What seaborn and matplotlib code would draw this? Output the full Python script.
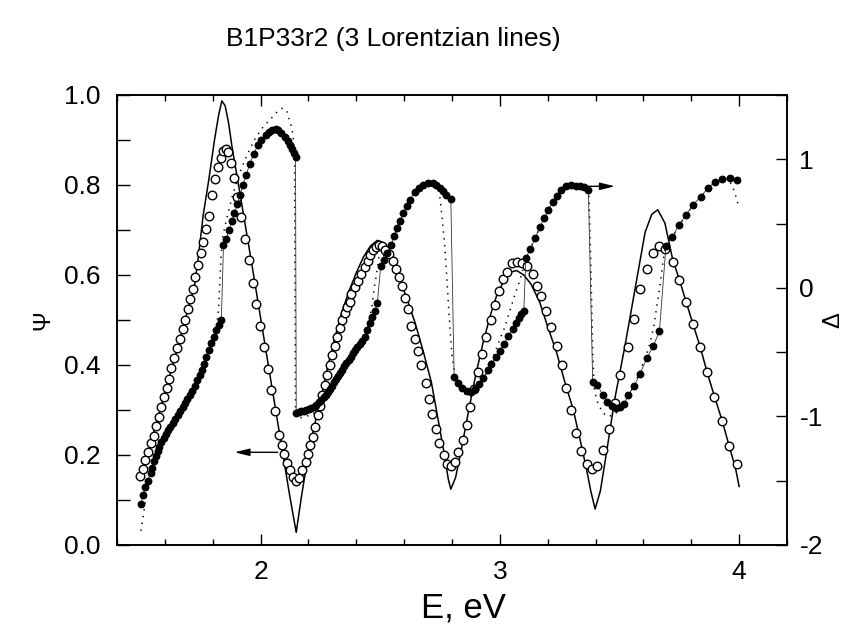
import matplotlib
matplotlib.use("Agg")
import matplotlib.pyplot as plt
import seaborn as sns
from matplotlib.ticker import MultipleLocator, FormatStrFormatter

plt.rcParams['font.family'] = ['Liberation Sans', 'DejaVu Sans']
plt.rcParams['axes.unicode_minus'] = False

# ---------------- data ----------------
# Psi, experimental (open circles)
E_psi_exp = [1.498, 1.508, 1.519, 1.531, 1.540, 1.554, 1.563, 1.575, 1.584, 1.596,
             1.607, 1.616, 1.626, 1.640, 1.650, 1.662, 1.674, 1.685, 1.696, 1.707,
             1.718, 1.728, 1.738, 1.749, 1.759, 1.773, 1.784, 1.796, 1.808, 1.821,
             1.833, 1.842, 1.854, 1.863, 1.877, 1.888, 1.902, 1.919, 1.934,
             1.951, 1.968, 1.982, 1.999, 2.014, 2.029, 2.045, 2.061, 2.079, 2.089,
             2.099, 2.110, 2.123, 2.137, 2.149,
             2.160, 2.174, 2.188, 2.198, 2.208, 2.219, 2.226, 2.240, 2.247, 2.258,
             2.268, 2.278, 2.289, 2.300, 2.310, 2.319, 2.331, 2.342, 2.351, 2.361,
             2.372, 2.379, 2.393, 2.407, 2.421, 2.435, 2.447, 2.459, 2.470, 2.481,
             2.495, 2.507, 2.521, 2.537, 2.554, 2.568, 2.579, 2.591, 2.603, 2.617,
             2.630, 2.644, 2.658, 2.672, 2.690, 2.704, 2.718, 2.732, 2.746, 2.766,
             2.780, 2.794, 2.812, 2.827, 2.844, 2.861, 2.877, 2.893, 2.910, 2.926,
             2.944, 2.962, 2.979, 2.997, 3.014, 3.031, 3.049, 3.070, 3.091, 3.112,
             3.137, 3.154, 3.172, 3.193, 3.213, 3.237, 3.258, 3.276, 3.296, 3.318,
             3.339, 3.363, 3.384, 3.405,
             3.433, 3.456, 3.481, 3.502, 3.534, 3.560, 3.586, 3.614, 3.639, 3.663,
             3.691, 3.722, 3.750, 3.778, 3.807, 3.838, 3.866, 3.897, 3.929, 3.959,
             3.991]
psi_exp = [0.154, 0.169, 0.189, 0.207, 0.227, 0.243, 0.264, 0.285, 0.306, 0.328,
           0.349, 0.370, 0.393, 0.416, 0.437, 0.458, 0.479, 0.501, 0.524, 0.547,
           0.570, 0.595, 0.622, 0.649, 0.674, 0.702, 0.732, 0.778, 0.813, 0.841,
           0.861, 0.876, 0.880, 0.873, 0.849, 0.815, 0.773, 0.730, 0.681,
           0.633, 0.582, 0.536, 0.486, 0.439, 0.391, 0.345, 0.298, 0.245, 0.222,
           0.202, 0.183, 0.166, 0.151, 0.142,
           0.150, 0.166, 0.185, 0.203, 0.222, 0.241, 0.262, 0.290, 0.310, 0.334,
           0.356, 0.377, 0.400, 0.422, 0.443, 0.462, 0.482, 0.500, 0.515, 0.528,
           0.539, 0.558, 0.573, 0.587, 0.602, 0.617, 0.632, 0.644, 0.656, 0.663,
           0.667, 0.664, 0.656, 0.647, 0.632, 0.613, 0.595, 0.576, 0.550, 0.524,
           0.487, 0.458, 0.432, 0.399, 0.360, 0.324, 0.291, 0.258, 0.227, 0.200,
           0.180, 0.176, 0.184, 0.206, 0.234, 0.267, 0.306, 0.347, 0.384, 0.424,
           0.463, 0.499, 0.533, 0.564, 0.591, 0.607, 0.627, 0.630, 0.627, 0.619,
           0.602, 0.576, 0.553, 0.521, 0.484, 0.443, 0.399, 0.350, 0.299, 0.250,
           0.210, 0.180, 0.169, 0.175,
           0.211, 0.258, 0.315, 0.378, 0.440, 0.502, 0.568, 0.613, 0.650, 0.665,
           0.657, 0.629, 0.590, 0.541, 0.491, 0.439, 0.384, 0.330, 0.276, 0.219,
           0.181]

# Psi, fit (solid line)
E_psi_fit = [1.50, 1.55, 1.60, 1.65, 1.70, 1.724, 1.741, 1.760, 1.784, 1.808,
             1.824, 1.838, 1.852, 1.866, 1.880, 1.919, 1.96, 2.00, 2.04, 2.08,
             2.12, 2.149, 2.17, 2.19, 2.22, 2.25, 2.28, 2.31, 2.34, 2.37,
             2.40, 2.43, 2.46, 2.488, 2.51, 2.53, 2.56, 2.575, 2.61, 2.645,
             2.68, 2.714, 2.745, 2.77, 2.785, 2.795, 2.815, 2.84, 2.87, 2.90,
             2.93, 2.96, 2.99, 3.02, 3.05, 3.07, 3.10, 3.13, 3.167, 3.20,
             3.237, 3.27, 3.306, 3.335, 3.362, 3.38, 3.398, 3.42, 3.45, 3.48,
             3.523, 3.565, 3.607, 3.635, 3.660, 3.69, 3.722, 3.75, 3.778, 3.807,
             3.838, 3.866, 3.897, 3.929, 3.959, 3.985, 4.00]
psi_fit = [0.150, 0.245, 0.338, 0.432, 0.530, 0.575, 0.645, 0.732, 0.813, 0.902,
           0.953, 0.987, 0.976, 0.939, 0.887, 0.765, 0.635, 0.505, 0.375, 0.245,
           0.115, 0.028, 0.105, 0.170, 0.255, 0.320, 0.395, 0.460, 0.518, 0.565,
           0.605, 0.640, 0.665, 0.677, 0.672, 0.660, 0.630, 0.600, 0.550, 0.495,
           0.430, 0.361, 0.270, 0.195, 0.145, 0.124, 0.150, 0.215, 0.300, 0.380,
           0.450, 0.510, 0.560, 0.590, 0.607, 0.610, 0.600, 0.580, 0.539, 0.485,
           0.428, 0.365, 0.302, 0.235, 0.169, 0.120, 0.080, 0.120, 0.220, 0.324,
           0.443, 0.569, 0.695, 0.735, 0.745, 0.715, 0.635, 0.590, 0.541, 0.491,
           0.439, 0.384, 0.330, 0.276, 0.219, 0.170, 0.130]

# Delta, experimental (filled circles, connected by a thin line)
E_delta_exp = [1.501, 1.508, 1.519, 1.529, 1.540, 1.547, 1.554, 1.561, 1.570, 1.577,
               1.584, 1.596, 1.605, 1.612, 1.623, 1.633, 1.644, 1.654, 1.665, 1.675,
               1.685, 1.693, 1.703, 1.713, 1.724, 1.734, 1.745, 1.755, 1.763, 1.774,
               1.784, 1.794, 1.805, 1.815, 1.826, 1.836,
               1.845, 1.856, 1.868, 1.880, 1.891, 1.903, 1.914, 1.926, 1.940, 1.954,
               1.971, 1.989, 2.003, 2.021, 2.035, 2.049, 2.063, 2.073, 2.086, 2.100,
               2.114, 2.124, 2.132, 2.140, 2.146,
               2.149, 2.160, 2.170, 2.181, 2.191, 2.202, 2.212, 2.222, 2.233, 2.244,
               2.254, 2.263, 2.272, 2.281, 2.289, 2.298, 2.307, 2.316, 2.324, 2.333,
               2.342, 2.350, 2.358, 2.368, 2.377, 2.386, 2.395, 2.405, 2.415, 2.425,
               2.435, 2.446, 2.456, 2.466, 2.477, 2.488,
               2.502, 2.516, 2.530, 2.547, 2.558, 2.572, 2.582, 2.596, 2.610, 2.624,
               2.644, 2.661, 2.679, 2.700, 2.721, 2.735, 2.749, 2.763, 2.777, 2.795,
               2.809, 2.826, 2.842, 2.861, 2.879, 2.896, 2.914, 2.931, 2.949, 2.965,
               2.983, 3.000, 3.017, 3.035, 3.054, 3.068, 3.080, 3.090, 3.100,
               3.109, 3.128, 3.147, 3.167, 3.186, 3.203, 3.221, 3.238, 3.256, 3.275,
               3.296, 3.317, 3.335, 3.350, 3.370,
               3.388, 3.408, 3.430, 3.449, 3.468, 3.485, 3.502, 3.520, 3.537, 3.562,
               3.586, 3.614, 3.642, 3.667,
               3.694, 3.720, 3.748, 3.778, 3.808, 3.839, 3.868, 3.898, 3.930, 3.960,
               3.991]
delta_exp = [-1.68, -1.61, -1.55, -1.50, -1.44, -1.40, -1.35, -1.31, -1.27, -1.235,
             -1.20, -1.17, -1.135, -1.105, -1.08, -1.05, -1.02, -0.99, -0.96, -0.93,
             -0.895, -0.865, -0.83, -0.80, -0.76, -0.72, -0.68, -0.635, -0.595, -0.535,
             -0.48, -0.43, -0.38, -0.33, -0.29, -0.25,
             0.33, 0.38, 0.45, 0.52, 0.58, 0.65, 0.72, 0.80, 0.88, 0.96,
             1.04, 1.11, 1.15, 1.19, 1.215, 1.228, 1.232, 1.226, 1.205, 1.175,
             1.14, 1.11, 1.08, 1.05, 1.02,
             -0.97, -0.965, -0.96, -0.955, -0.95, -0.945, -0.935, -0.925, -0.91, -0.89,
             -0.87, -0.85, -0.83, -0.81, -0.785, -0.76, -0.735, -0.71, -0.685, -0.66,
             -0.635, -0.61, -0.585, -0.56, -0.535, -0.51, -0.485, -0.46, -0.435, -0.41,
             -0.385, -0.33, -0.275, -0.225, -0.18, -0.12,
             0.168, 0.220, 0.272, 0.336, 0.401, 0.466, 0.523, 0.583, 0.635, 0.687,
             0.745, 0.780, 0.800, 0.812, 0.812, 0.800, 0.780, 0.750, 0.720, 0.690,
             -0.69, -0.74, -0.78, -0.80, -0.81, -0.79, -0.75, -0.70, -0.64, -0.59,
             -0.54, -0.49, -0.435, -0.377, -0.32, -0.27, -0.235, -0.205, -0.18,
             0.233, 0.303, 0.388, 0.471, 0.544, 0.609, 0.666, 0.718, 0.765, 0.791,
             0.799, 0.796, 0.791, 0.785, 0.765,
             -0.73, -0.755, -0.835, -0.885, -0.92, -0.935, -0.93, -0.905, -0.832, -0.762,
             -0.668, -0.546, -0.45, -0.335,
             0.323, 0.392, 0.488, 0.566, 0.648, 0.707, 0.774, 0.823, 0.843, 0.855,
             0.840]

# Delta, fit (dotted line)
E_delta_fit = [1.500, 1.508, 1.520, 1.535, 1.55, 1.57, 1.60, 1.63, 1.66, 1.70,
               1.73, 1.76, 1.79, 1.815, 1.825, 1.830, 1.835, 1.842, 1.86, 1.88,
               1.90, 1.92, 1.95, 1.98, 2.01, 2.04, 2.07, 2.093, 2.11, 2.125,
               2.135, 2.142, 2.144, 2.146, 2.155, 2.170, 2.19, 2.22, 2.25, 2.28,
               2.31, 2.34, 2.37, 2.40, 2.43, 2.45, 2.465, 2.475, 2.484, 2.495,
               2.52, 2.55, 2.58, 2.61, 2.64, 2.67, 2.70, 2.73, 2.745, 2.758,
               2.770, 2.779, 2.788, 2.800, 2.809, 2.818, 2.833, 2.85, 2.87, 2.89,
               2.91, 2.93, 2.95, 2.98, 3.00, 3.02, 3.04, 3.06, 3.08, 3.095,
               3.105, 3.13, 3.15, 3.18, 3.21, 3.24, 3.27, 3.30, 3.33, 3.355,
               3.372, 3.380, 3.388, 3.395, 3.41, 3.43, 3.45, 3.475, 3.50, 3.53,
               3.56, 3.59, 3.62, 3.634, 3.646, 3.656, 3.665, 3.674, 3.681, 3.687,
               3.70, 3.72, 3.75, 3.78, 3.81, 3.84, 3.87, 3.90, 3.93, 3.955,
               3.97, 3.985, 4.00]
delta_fit = [-1.89, -1.80, -1.64, -1.50, -1.40, -1.29, -1.17, -1.07, -0.98, -0.86,
             -0.75, -0.63, -0.47, -0.32, -0.15, 0.05, 0.25, 0.40, 0.55, 0.70,
             0.82, 0.93, 1.06, 1.17, 1.25, 1.31, 1.37, 1.40, 1.37, 1.28,
             1.20, 1.05, 0.00, -0.95, -1.00, -1.01, -1.00, -0.98, -0.92, -0.84,
             -0.75, -0.66, -0.57, -0.47, -0.39, -0.28, -0.15, 0.00, 0.10, 0.25,
             0.25, 0.36, 0.51, 0.64, 0.74, 0.79, 0.81, 0.80, 0.78, 0.56,
             0.32, 0.06, -0.22, -0.53, -0.64, -0.715, -0.77, -0.82, -0.845, -0.83,
             -0.79, -0.72, -0.64, -0.50, -0.40, -0.31, -0.19, -0.07, 0.04, 0.13,
             0.22, 0.31, 0.40, 0.52, 0.63, 0.72, 0.78, 0.80, 0.79, 0.77,
             0.72, 0.20, -0.50, -0.80, -0.90, -0.97, -1.00, -0.99, -0.95, -0.87,
             -0.76, -0.63, -0.48, -0.38, -0.27, -0.14, -0.04, 0.09, 0.19, 0.27,
             0.34, 0.39, 0.49, 0.57, 0.65, 0.71, 0.77, 0.82, 0.84, 0.84,
             0.80, 0.72, 0.62]

# axis ranges
x_range = (1.4, 4.2)
psi_range = (0.0, 1.0)
delta_range = (-2.0, 1.5)

# ---------------- figure ----------------
W, H = 865, 623
fig = plt.figure(figsize=(W / 100, H / 100), dpi=100)
ax1 = fig.add_axes([117 / W, 1 - 545 / H, 670 / W, 450 / H])
ax2 = ax1.twinx()

# Psi fit (solid) and Psi exp (open circles) on left axis
sns.lineplot(x=E_psi_fit, y=psi_fit, ax=ax1, color='black', linewidth=1.1,
             sort=False, estimator=None, zorder=2)
sns.scatterplot(x=E_psi_exp, y=psi_exp, ax=ax1, marker='o', s=38,
                facecolor='white', edgecolor='black', linewidth=1.0, zorder=3)

# Delta fit (dotted) and Delta exp (filled circles + thin line) on right axis
sns.lineplot(x=E_delta_fit, y=delta_fit, ax=ax2, color='black', linewidth=1.1,
             linestyle=(0, (0.9, 3.6)), sort=False, estimator=None, zorder=2)
sns.lineplot(x=E_delta_exp, y=delta_exp, ax=ax2, color='#333333', linewidth=0.6,
             sort=False, estimator=None, zorder=3)
sns.scatterplot(x=E_delta_exp, y=delta_exp, ax=ax2, marker='o', s=32,
                color='black', linewidth=0, zorder=4)

# arrows showing which axis each data set belongs to
ax1.annotate('', xy=(1.891, 0.206), xytext=(2.072, 0.206),
             arrowprops=dict(arrowstyle='-|>,head_length=0.9,head_width=0.22',
                             color='black', lw=1.0, shrinkA=0, shrinkB=0))
ax2.annotate('', xy=(3.481, 0.79), xytext=(3.363, 0.79),
             arrowprops=dict(arrowstyle='-|>,head_length=0.9,head_width=0.22',
                             color='black', lw=1.0, shrinkA=0, shrinkB=0))

# limits and ticks
ax1.set_xlim(*x_range)
ax1.set_ylim(*psi_range)
ax2.set_ylim(*delta_range)

ax1.xaxis.set_major_locator(MultipleLocator(1.0))
ax1.xaxis.set_minor_locator(MultipleLocator(0.2))
ax1.xaxis.set_major_formatter(FormatStrFormatter('%d'))
ax1.yaxis.set_major_locator(MultipleLocator(0.2))
ax1.yaxis.set_minor_locator(MultipleLocator(0.1))
ax1.yaxis.set_major_formatter(FormatStrFormatter('%.1f'))
ax2.yaxis.set_major_locator(MultipleLocator(1.0))
ax2.yaxis.set_minor_locator(MultipleLocator(0.5))
ax2.yaxis.set_major_formatter(FormatStrFormatter('%d'))

ax1.tick_params(axis='x', which='major', direction='in', top=True, bottom=True,
                length=8, width=1.0, labelsize=19, pad=11)
ax1.tick_params(axis='x', which='minor', direction='in', top=True, bottom=True,
                length=4, width=1.0)
ax1.tick_params(axis='y', which='both', direction='in', left=True, right=False,
                length=9, width=1.0, labelsize=19, pad=12)
ax2.tick_params(axis='y', which='both', direction='in', right=True, left=False,
                length=8, width=1.0, labelsize=19, pad=9)

for ax in (ax1, ax2):
    for sp in ax.spines.values():
        sp.set_linewidth(1.2)
        sp.set_color('black')

# labels
ax1.set_xlabel('E, eV', fontsize=25)
ax1.xaxis.set_label_coords((463 - 117) / 670, -(591 - 545) / 450)
ax1.set_ylabel('\u03a8', fontsize=17)
ax1.yaxis.set_label_coords((54 - 117) / 670, 0.5)
ax2.set_ylabel('\u0394', fontsize=17)
ax2.yaxis.set_label_coords((822 - 117) / 670, 0.5)

fig.text(393 / W, 1 - 39 / H, 'B1P33r2 (3 Lorentzian lines)', fontsize=19,
         ha='center', va='center')

fig.savefig('out.png', dpi=100)
